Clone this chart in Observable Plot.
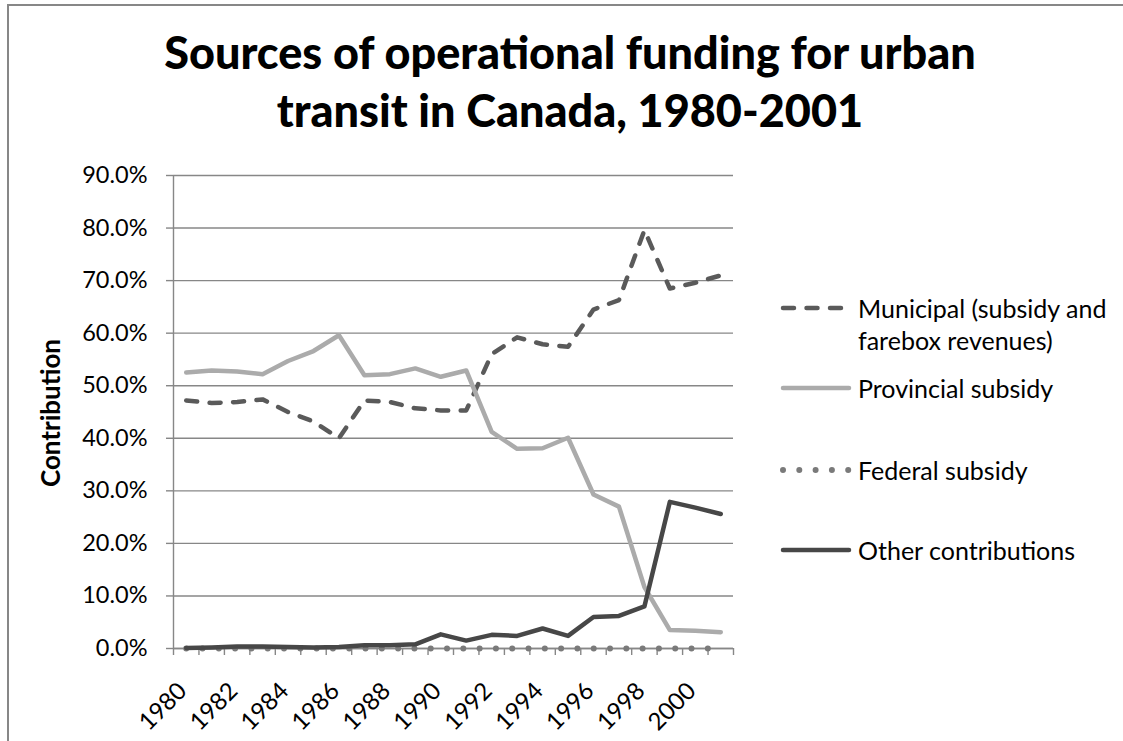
<!DOCTYPE html>
<html>
<head>
<meta charset="utf-8">
<script src="https://cdn.jsdelivr.net/npm/d3@7"></script>
<script src="https://cdn.jsdelivr.net/npm/@observablehq/plot@0.6"></script>
<style>
  body { margin: 0; background: #fff; font-family: Lato, "Open Sans", sans-serif; }
  #wrap { position: relative; width: 1123px; height: 741px; overflow: hidden; background: #fff; }
  #frame { position: absolute; left: 7px; top: 4px; width: 1200px; height: 800px;
           border-top: 2px solid #878787; border-left: 2px solid #878787; }
  #title { position: absolute; left: 0; top: 23px; width: 1140px; text-align: center;
           font-weight: 900; font-size: 45px; line-height: 58px; color: #000; }
  #ylabel { position: absolute; left: 50px; top: 413px; transform: translate(-50%, -50%) rotate(-90deg);
            font-weight: bold; font-size: 26px; white-space: nowrap; color: #000; }
  #chart { position: absolute; left: 0; top: 0; }
  .leg { position: absolute; left: 780px; display: flex; align-items: flex-start; }
  .leg svg { flex: none; }
  .leg span { margin-left: 6px; font-size: 25px; line-height: 32px; color: #000; }
</style>
</head>
<body>
<div id="wrap">
  <div id="frame"></div>
  <div id="title">Sources of operational funding for urban<br>transit in Canada, 1980-2001</div>
  <div id="ylabel">Contribution</div>
  <div id="chart"></div>
  <div id="legend"></div>
</div>
<script>
const years = [1980,1981,1982,1983,1984,1985,1986,1987,1988,1989,1990,1991,1992,1993,1994,1995,1996,1997,1998,1999,2000,2001];
const municipal  = [47.2,46.7,46.9,47.4,45.0,43.2,40.0,47.2,46.9,45.7,45.3,45.3,56.0,59.2,57.9,57.4,64.5,66.3,79.6,68.5,69.6,71.0];
const provincial = [52.5,52.9,52.7,52.2,54.7,56.6,59.6,52.0,52.2,53.3,51.7,52.9,41.2,38.0,38.1,40.1,29.3,27.0,11.7,3.5,3.4,3.1];
const federal    = [0,0,0,0,0,0,0,0,0,0,0,0,0,0,0,0,0,0,0,0,0,0];
const other      = [0.1,0.2,0.4,0.4,0.3,0.2,0.3,0.6,0.6,0.8,2.7,1.5,2.6,2.4,3.8,2.4,6.0,6.2,8.0,27.9,26.8,25.6];
const seriesNames = ["Municipal (subsidy and farebox revenues)", "Provincial subsidy", "Federal subsidy", "Other contributions"];
const yTicks = [0,0.1,0.2,0.3,0.4,0.5,0.6,0.7,0.8,0.9];
const xLabelYears = [1980,1982,1984,1986,1988,1990,1992,1994,1996,1998,2000];

const styles = [
  {stroke: "#5a5a5a", dash: "11,12.5", width: 4.5},
  {stroke: "#ababab", dash: null, width: 4.5},
  {stroke: "#7a7a7a", dash: "0,16.3", width: 6},
  {stroke: "#474747", dash: null, width: 4.5}
];
const seriesValues = [municipal, provincial, federal, other];
const rows = seriesValues.map(vals => years.map((y, i) => ({year: y, value: vals[i] / 100})));
const boundaries = years.map(y => y - 0.5).concat([years[years.length - 1] + 0.5]);
const x0 = years[0] - 0.5, x1 = years[years.length - 1] + 0.5;

const gridColor = "#878787";
const lineMarks = rows.map((r, i) => Plot.line(r, {
  x: "year", y: "value", stroke: styles[i].stroke, strokeWidth: styles[i].width,
  strokeDasharray: styles[i].dash || undefined, strokeLinecap: "round", strokeLinejoin: "round"
}));

const chart = Plot.plot({
  width: 760, height: 741,
  marginLeft: 173, marginRight: 27, marginTop: 175, marginBottom: 93,
  style: {fontFamily: "Lato, 'Open Sans', sans-serif", fontSize: "23px", color: "#000", background: "transparent", overflow: "visible"},
  x: {domain: [x0, x1]},
  y: {domain: [0, 0.9]},
  marks: [
    Plot.gridY(yTicks, {stroke: gridColor, strokeOpacity: 1, strokeWidth: 1.4}),
    Plot.axisY(yTicks, {tickFormat: d3.format(".1%"), tickSize: 7, tickPadding: 19, stroke: gridColor, strokeOpacity: 1, strokeWidth: 1.4, fontSize: 23.5, fill: "#000", label: null}),
    Plot.axisX(boundaries, {tickSize: 7, tickFormat: () => "", stroke: gridColor, strokeOpacity: 1, strokeWidth: 1.4, label: null}),
    Plot.axisX(xLabelYears, {tickSize: 0, tickPadding: 35, dy: 3.5, dx: -3.5, rotate: -45, textAnchor: "end", lineAnchor: "middle", tickFormat: d => String(d), fontSize: 24, fill: "#000", label: null}),
    Plot.ruleX([x0], {stroke: gridColor, strokeWidth: 1.4}),
    Plot.ruleY([0], {stroke: gridColor, strokeWidth: 1.4}),
    ...lineMarks
  ]
});
document.getElementById("chart").appendChild(chart);

// legend
const legendY = [308, 388, 470, 550];
const legendLabels = [["Municipal (subsidy and", "farebox revenues)"], ["Provincial subsidy"], ["Federal subsidy"], ["Other contributions"]];
const legend = document.getElementById("legend");
seriesNames.forEach((name, i) => {
  const div = document.createElement("div");
  div.className = "leg";
  div.style.top = (legendY[i] - 16) + "px";
  const s = styles[i];
  div.innerHTML = `<svg width="72" height="32"><line x1="3" x2="69" y1="16" y2="16" stroke="${s.stroke}" stroke-width="${s.width}" stroke-linecap="round" ${s.dash ? `stroke-dasharray="${s.dash}"` : ""}/></svg><span>${legendLabels[i].join("<br>")}</span>`;
  legend.appendChild(div);
});
</script>
</body>
</html>
